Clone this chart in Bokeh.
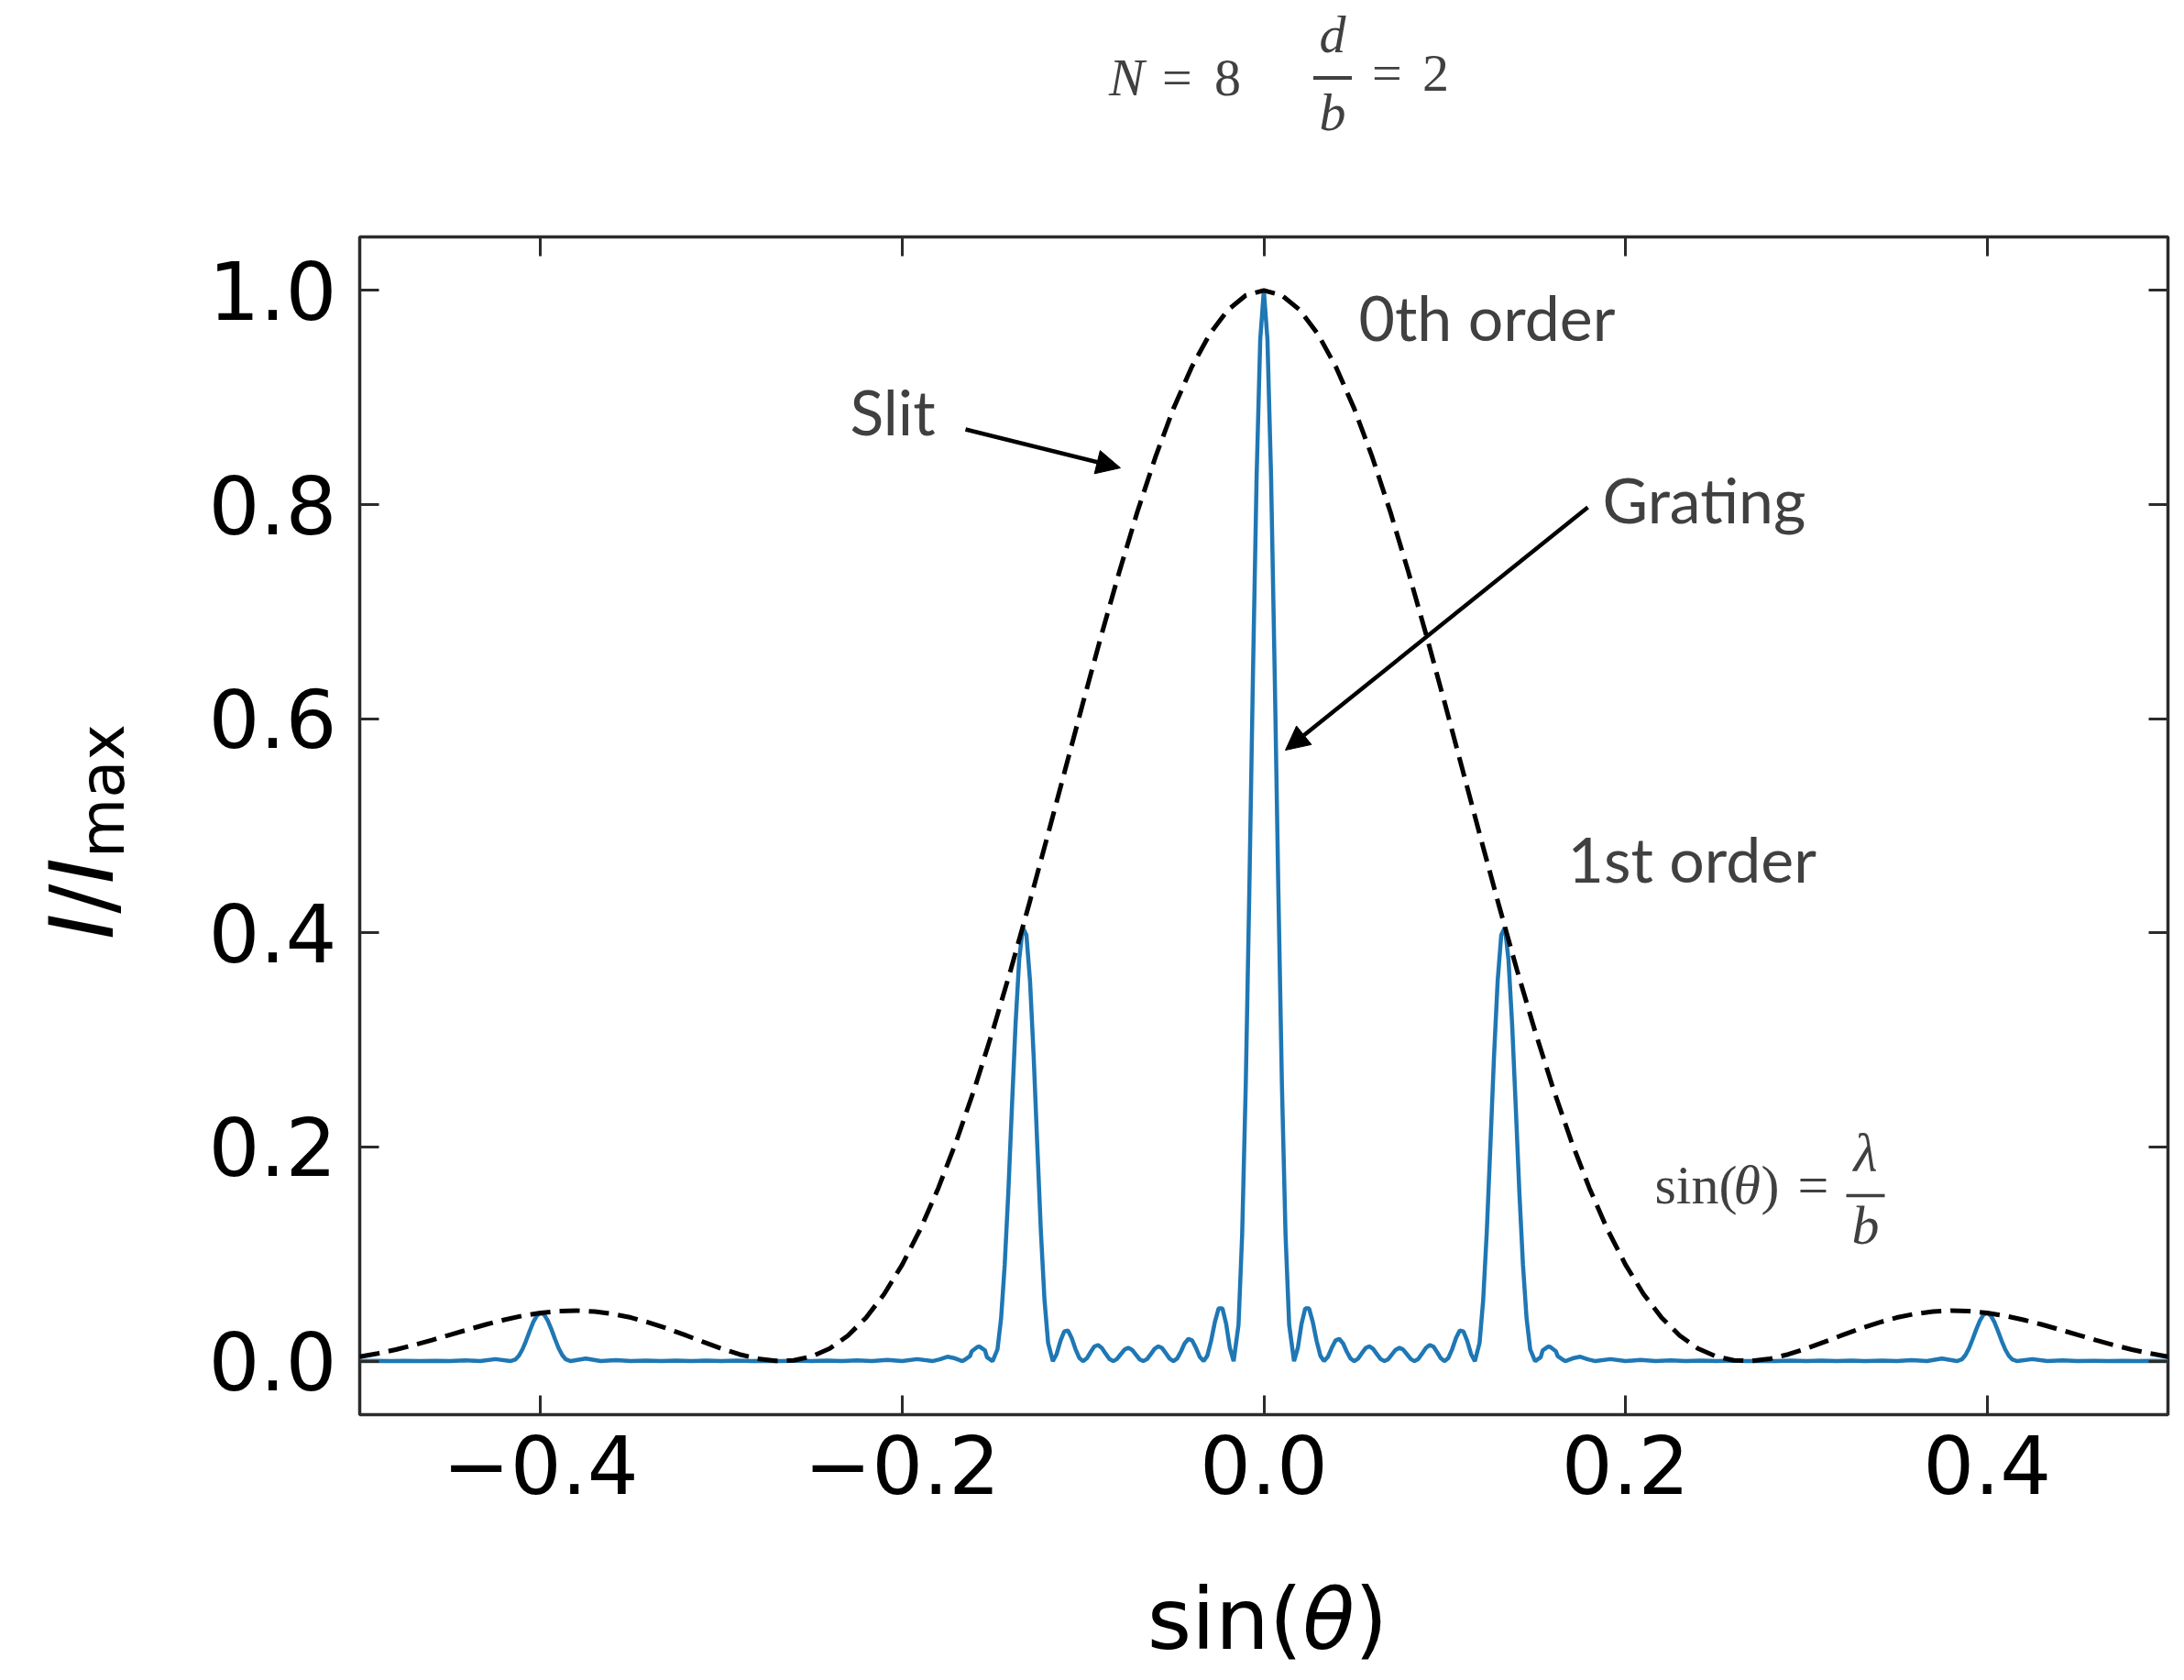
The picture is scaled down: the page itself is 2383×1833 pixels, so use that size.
from bokeh.plotting import figure
from bokeh.models import Range1d, FixedTicker, LinearAxis, Label, Arrow, NormalHead, Div
from bokeh.layouts import column, row
from bokeh.embed import file_html
from bokeh.resources import INLINE

# ---------------- data ----------------
x_ticks = [-0.4, -0.2, 0.0, 0.2, 0.4]
x_tick_labels = ["\u22120.4", "\u22120.2", "0.0", "0.2", "0.4"]
y_ticks = [0.0, 0.2, 0.4, 0.6, 0.8, 1.0]
y_tick_labels = ["0.0", "0.2", "0.4", "0.6", "0.8", "1.0"]

# Grating intensity (blue), left half
grating_x_left = [
    -0.5, -0.4917, -0.4833, -0.475, -0.4667, -0.4583, -0.45, -0.4417, -0.4333, -0.425, -0.4167,
    -0.414, -0.412, -0.41, -0.408, -0.406, -0.404, -0.402, -0.4, -0.398, -0.396, -0.394, -0.392, -0.39, -0.388, -0.386, -0.3833,
    -0.375, -0.3667, -0.3583, -0.35, -0.3417, -0.3333, -0.325, -0.3167, -0.3083, -0.3, -0.2917, -0.2833,
    -0.2767, -0.2667, -0.2567, -0.25,
    -0.2417, -0.2333, -0.225, -0.2167, -0.2083, -0.2, -0.1917, -0.1833,
    -0.1792, -0.175, -0.1708, -0.1667,
    -0.1656, -0.1625, -0.1615, -0.1583, -0.1573, -0.1542, -0.1531, -0.15,
    -0.1473, -0.1453, -0.1433, -0.1413, -0.1393, -0.1373, -0.1353, -0.1333, -0.1313, -0.1293, -0.1273, -0.1253, -0.1233, -0.1213, -0.1193, -0.1167,
    -0.1146, -0.1125, -0.1104, -0.1083, -0.1063, -0.1042, -0.1021, -0.1,
    -0.0979, -0.0958, -0.0938, -0.0917, -0.0896, -0.0875, -0.0854, -0.0833,
    -0.0813, -0.0792, -0.0771, -0.075, -0.0729, -0.0708, -0.0688, -0.0667,
    -0.0646, -0.0625, -0.0604, -0.0583, -0.0563, -0.0542, -0.0521, -0.05,
    -0.0479, -0.0458, -0.0438, -0.0417, -0.0396, -0.0375, -0.0354, -0.0333,
    -0.0313, -0.0292, -0.0271, -0.025, -0.0229, -0.0208, -0.0188, -0.0167,
    -0.014, -0.012, -0.010, -0.008, -0.006, -0.004, -0.002,
]
grating_y_left = [
    0.0, 0.0002, 0.0, 0.0002, 0.0, 0.0003, 0.0, 0.0007, 0.0, 0.0019, 0.0,
    0.0014, 0.0050, 0.0110, 0.0191, 0.0281, 0.0365, 0.0425, 0.0450, 0.0434, 0.0379, 0.0297, 0.0206, 0.0121, 0.0056, 0.0016, 0.0,
    0.0024, 0.0, 0.0010, 0.0, 0.0006, 0.0, 0.0004, 0.0, 0.0004, 0.0, 0.0004, 0.0,
    0.0003, 0.0, 0.0004, 0.0,
    0.0005, 0.0, 0.0007, 0.0, 0.0011, 0.0, 0.0019, 0.0,
    0.0017, 0.0041, 0.0026, 0.0,
    0.0011, 0.0047, 0.0093, 0.0133, 0.0136, 0.0100, 0.0036, 0.0,
    0.011, 0.040, 0.090, 0.158, 0.238, 0.315, 0.375, 0.405, 0.398, 0.355, 0.285, 0.202, 0.121, 0.057, 0.017, 0.0,
    0.0065, 0.0188, 0.0277, 0.0285, 0.0216, 0.0114, 0.0031, 0.0,
    0.0026, 0.0084, 0.0135, 0.0151, 0.0123, 0.0070, 0.0020, 0.0,
    0.0019, 0.0063, 0.0107, 0.0124, 0.0106, 0.0062, 0.0018, 0.0,
    0.0019, 0.0066, 0.0115, 0.0138, 0.0122, 0.0074, 0.0023, 0.0,
    0.0025, 0.0091, 0.0166, 0.0208, 0.0192, 0.0122, 0.0039, 0.0,
    0.0049, 0.0187, 0.0363, 0.0492, 0.0493, 0.0345, 0.0123, 0.0,
    0.034, 0.118, 0.258, 0.442, 0.643, 0.826, 0.954,
]
# Grating intensity (blue), right half
grating_x_right = [
    0.0, 0.002, 0.004, 0.006, 0.008, 0.010, 0.012, 0.014,
    0.0167, 0.0188, 0.0208, 0.0229, 0.025, 0.0271, 0.0292, 0.0313,
    0.0333, 0.0354, 0.0375, 0.0396, 0.0417, 0.0438, 0.0458, 0.0479,
    0.05, 0.0521, 0.0542, 0.0563, 0.0583, 0.0604, 0.0625, 0.0646,
    0.0667, 0.0688, 0.0708, 0.0729, 0.075, 0.0771, 0.0792, 0.0813,
    0.0833, 0.0854, 0.0875, 0.0896, 0.0917, 0.0938, 0.0958, 0.0979,
    0.1, 0.1021, 0.1042, 0.1063, 0.1083, 0.1104, 0.1125, 0.1146,
    0.1167, 0.1193, 0.1213, 0.1233, 0.1253, 0.1273, 0.1293, 0.1313, 0.1333, 0.1353, 0.1373, 0.1393, 0.1413, 0.1433, 0.1453, 0.1473,
    0.15, 0.1531, 0.1542, 0.1573, 0.1583, 0.1615, 0.1625, 0.1656,
    0.1667, 0.1708, 0.175, 0.1792,
    0.1833, 0.1917, 0.2, 0.2083, 0.2167, 0.225, 0.2333, 0.2417,
    0.25, 0.2567, 0.2667, 0.2767,
    0.2833, 0.2917, 0.3, 0.3083, 0.3167, 0.325, 0.3333, 0.3417, 0.35, 0.3583, 0.3667, 0.375,
    0.3833, 0.386, 0.388, 0.39, 0.392, 0.394, 0.396, 0.398, 0.4, 0.402, 0.404, 0.406, 0.408, 0.41, 0.412, 0.414,
    0.4167, 0.425, 0.4333, 0.4417, 0.45, 0.4583, 0.4667, 0.475, 0.4833, 0.4917, 0.5,
]
grating_y_right = [
    1.0, 0.954, 0.826, 0.643, 0.442, 0.258, 0.118, 0.034,
    0.0, 0.0123, 0.0345, 0.0493, 0.0492, 0.0363, 0.0187, 0.0049,
    0.0, 0.0039, 0.0122, 0.0192, 0.0208, 0.0166, 0.0091, 0.0025,
    0.0, 0.0023, 0.0074, 0.0122, 0.0138, 0.0115, 0.0066, 0.0019,
    0.0, 0.0018, 0.0062, 0.0106, 0.0124, 0.0107, 0.0063, 0.0019,
    0.0, 0.0020, 0.0070, 0.0123, 0.0151, 0.0135, 0.0084, 0.0026,
    0.0, 0.0031, 0.0114, 0.0216, 0.0285, 0.0277, 0.0188, 0.0065,
    0.0, 0.017, 0.057, 0.121, 0.202, 0.285, 0.355, 0.398, 0.405, 0.375, 0.315, 0.238, 0.158, 0.090, 0.040, 0.011,
    0.0, 0.0036, 0.0100, 0.0136, 0.0133, 0.0093, 0.0047, 0.0011,
    0.0, 0.0026, 0.0041, 0.0017,
    0.0, 0.0019, 0.0, 0.0011, 0.0, 0.0007, 0.0, 0.0005,
    0.0, 0.0004, 0.0, 0.0003,
    0.0, 0.0004, 0.0, 0.0004, 0.0, 0.0004, 0.0, 0.0006, 0.0, 0.0010, 0.0, 0.0024,
    0.0, 0.0016, 0.0056, 0.0121, 0.0206, 0.0297, 0.0379, 0.0434, 0.0450, 0.0425, 0.0365, 0.0281, 0.0191, 0.0110, 0.0050, 0.0014,
    0.0, 0.0019, 0.0, 0.0007, 0.0, 0.0003, 0.0, 0.0002, 0.0, 0.0002, 0.0,
]

# Single-slit envelope (dashed)
slit_x = [
    -0.50, -0.49, -0.48, -0.47, -0.46, -0.45, -0.44, -0.43, -0.42, -0.41,
    -0.40, -0.39, -0.38, -0.37, -0.36, -0.35, -0.34, -0.33, -0.32, -0.31,
    -0.30, -0.29, -0.28, -0.27, -0.26, -0.25, -0.24, -0.23, -0.22, -0.21,
    -0.20, -0.19, -0.18, -0.17, -0.16, -0.15, -0.14, -0.13, -0.12, -0.11,
    -0.10, -0.09, -0.08, -0.07, -0.06, -0.05, -0.04, -0.03, -0.02, -0.01,
    0.00,
    0.01, 0.02, 0.03, 0.04, 0.05, 0.06, 0.07, 0.08, 0.09, 0.10,
    0.11, 0.12, 0.13, 0.14, 0.15, 0.16, 0.17, 0.18, 0.19, 0.20,
    0.21, 0.22, 0.23, 0.24, 0.25, 0.26, 0.27, 0.28, 0.29, 0.30,
    0.31, 0.32, 0.33, 0.34, 0.35, 0.36, 0.37, 0.38, 0.39, 0.40,
    0.41, 0.42, 0.43, 0.44, 0.45, 0.46, 0.47, 0.48, 0.49, 0.50,
]
slit_y = [
    0.0042, 0.0072, 0.0108, 0.0150, 0.0197, 0.0246, 0.0295, 0.0343, 0.0386, 0.0423,
    0.0450, 0.0467, 0.0472, 0.0463, 0.0441, 0.0407, 0.0360, 0.0305, 0.0243, 0.0179,
    0.0117, 0.0063, 0.0022, 0.0002, 0.0007, 0.0044, 0.0119, 0.0239, 0.0406, 0.0626,
    0.0901, 0.1231, 0.1617, 0.2056, 0.2546, 0.3080, 0.3653, 0.4257, 0.4881, 0.5516,
    0.6150, 0.6771, 0.7368, 0.7929, 0.8442, 0.8896, 0.9281, 0.9590, 0.9816, 0.9954,
    1.0000,
    0.9954, 0.9816, 0.9590, 0.9281, 0.8896, 0.8442, 0.7929, 0.7368, 0.6771, 0.6150,
    0.5516, 0.4881, 0.4257, 0.3653, 0.3080, 0.2546, 0.2056, 0.1617, 0.1231, 0.0901,
    0.0626, 0.0406, 0.0239, 0.0119, 0.0044, 0.0007, 0.0002, 0.0022, 0.0063, 0.0117,
    0.0179, 0.0243, 0.0305, 0.0360, 0.0407, 0.0441, 0.0463, 0.0472, 0.0467, 0.0450,
    0.0423, 0.0386, 0.0343, 0.0295, 0.0246, 0.0197, 0.0150, 0.0108, 0.0072, 0.0042,
]

# ---------------- layout (page pixels) ----------------
X0, X1 = -0.5, 0.5
Y0, Y1 = -0.05, 1.05
FL, FR, FT, FB = 392, 2365, 258, 1543   # frame edges
FW, FH = FR - FL, FB - FT
YL_W = 150          # width of the y-label strip on the left
TITLE_H = 160       # height of the title strip on top
FIG_BOTTOM = 150    # figure border below the frame (tick labels)
XL_H = 136          # height of the x-label strip at the bottom
RIGHT_W = FR + 10 - YL_W
TOTAL_H = FB + FIG_BOTTOM + XL_H


def dx(px):
    return X0 + (px - FL) * (X1 - X0) / FW


def dy(py):
    return Y0 + (FB - py) * (Y1 - Y0) / FH


p = figure(
    frame_width=FW, frame_height=FH,
    x_range=Range1d(X0, X1), y_range=Range1d(Y0, Y1),
    output_backend="svg", toolbar_location=None,
    min_border_left=FL - YL_W, min_border_right=10,
    min_border_top=FT - TITLE_H, min_border_bottom=FIG_BOTTOM,
    background_fill_color="white", border_fill_color="white",
    margin=(0, 0, 0, 0),
)
p.grid.visible = False
p.outline_line_color = "#2b2b2b"
p.outline_line_width = 3.5

AX = "#2b2b2b"
TICK_FONT = "DejaVu Sans"


def style_axis(ax, ticks, labels, show):
    ax.ticker = FixedTicker(ticks=ticks)
    ax.major_label_overrides = {t: (l if show else "") for t, l in zip(ticks, labels)}
    ax.axis_line_color = None
    ax.major_tick_in = 21
    ax.major_tick_out = 0
    ax.major_tick_line_width = 3
    ax.major_tick_line_color = AX
    ax.minor_tick_line_color = None
    ax.major_label_text_font = TICK_FONT
    ax.major_label_text_color = "black"
    ax.major_label_text_font_size = "88px" if show else "1px"


style_axis(p.xaxis[0], x_ticks, x_tick_labels, True)
p.xaxis[0].major_label_standoff = 22
style_axis(p.yaxis[0], y_ticks, y_tick_labels, True)
p.yaxis[0].major_label_standoff = 25

top_axis = LinearAxis()
style_axis(top_axis, x_ticks, x_tick_labels, False)
top_axis.major_label_standoff = 0
p.add_layout(top_axis, "above")
right_axis = LinearAxis()
style_axis(right_axis, y_ticks, y_tick_labels, False)
right_axis.major_label_standoff = 0
p.add_layout(right_axis, "right")

# ---------------- curves ----------------
p.line(grating_x_left + grating_x_right, grating_y_left + grating_y_right,
       line_color="#1f77b4", line_width=4.5)
p.line(slit_x, slit_y, line_color="black", line_width=5, line_dash="22 10")

# ---------------- in-plot texts ----------------
BASE_SHIFT = 0.42  # Bokeh label baseline correction (in em)


def lab(px, py, text, font, size, color="#404040", style="normal", align="left"):
    p.add_layout(Label(x=dx(px), y=dy(py - BASE_SHIFT * size), text=text, text_font=font,
                       text_font_size=f"{size}px", text_color=color,
                       text_font_style=style, text_align=align,
                       text_baseline="alphabetic"))


SERIF = "Liberation Serif"
ANN = "Lato"
lab(1482, 374, "0th order", ANN, 68)
lab(927, 477, "Slit", ANN, 68)
lab(1748, 573, "Grating", ANN, 68)
lab(1710, 965, "1st order", ANN, 68)

# sin(theta) = lambda / b
lab(1805, 1318, "sin(", SERIF, 60)
lab(1891, 1318, "\u03b8", SERIF, 60, style="italic")
lab(1921, 1318, ")", SERIF, 60)
lab(1961, 1318, "=", SERIF, 60)
p.add_layout(Arrow(end=None, x_start=dx(2014), y_start=dy(1304), x_end=dx(2056), y_end=dy(1304),
                   line_color="#404040", line_width=3.5))
lab(2035, 1283, "\u03bb", SERIF, 60, style="italic", align="center")
lab(2035, 1362, "b", SERIF, 60, style="italic", align="center")

# Arrows
for (x0, y0, x1, y1) in [(1053, 468, 1222, 510), (1732, 553, 1402, 818)]:
    p.add_layout(Arrow(end=NormalHead(size=26, fill_color="black", line_color="black", line_width=1),
                       x_start=dx(x0), y_start=dy(y0), x_end=dx(x1), y_end=dy(y1),
                       line_color="black", line_width=4.5))


# ---------------- HTML text strips (title, axis labels) ----------------
def span(ox, oy, left, baseline, text, size, asc, italic=False, center=False, extra=""):
    """Absolutely positioned text; left/baseline in page pixels, (ox, oy) = strip origin."""
    tr = "transform:translateX(-50%);" if center else ""
    st = "font-style:italic;" if italic else ""
    return (f'<span style="position:absolute;left:{left - ox}px;top:{baseline - asc * size - oy:.1f}px;'
            f'font-size:{size}px;line-height:1;white-space:nowrap;{st}{tr}{extra}">{text}</span>')


SERIF_ASC = 0.8375   # baseline offset (em) in a line-height:1 box, Liberation Serif
SANS_ASC = 0.846     # same for DejaVu Sans
TS = 58

# Title strip at page (YL_W, 0)
ox, oy = YL_W, 0
title_html = (
    f'<div style="position:relative;width:{RIGHT_W}px;height:{TITLE_H}px;'
    f'font-family:\'Liberation Serif\';color:#404040;">'
    + span(ox, oy, 1210, 105, "N", TS, SERIF_ASC, italic=True)
    + span(ox, oy, 1268, 105, "=", TS, SERIF_ASC)
    + span(ox, oy, 1325, 105, "8", TS, SERIF_ASC)
    + span(ox, oy, 1454, 58, "d", TS, SERIF_ASC, italic=True, center=True)
    + f'<div style="position:absolute;left:{1433 - ox}px;top:{83 - oy}px;width:42px;height:4px;background:#404040;"></div>'
    + span(ox, oy, 1454, 143, "b", TS, SERIF_ASC, italic=True, center=True)
    + span(ox, oy, 1497, 100, "=", TS, SERIF_ASC)
    + span(ox, oy, 1552, 100, "2", TS, SERIF_ASC)
    + '</div>'
)
title_div = Div(text=title_html, width=RIGHT_W, height=TITLE_H, margin=(0, 0, 0, 0))

# x-label strip at page (YL_W, FB + FIG_BOTTOM)
ox, oy = YL_W, FB + FIG_BOTTOM
xlab_html = (
    f'<div style="position:relative;width:{RIGHT_W}px;height:{XL_H}px;'
    f'font-family:\'DejaVu Sans\';color:black;">'
    + span(ox, oy, 1383, 1800, 'sin(<span style="font-style:italic">\u03b8</span>)', 93, SANS_ASC, center=True)
    + '</div>'
)
xlab_div = Div(text=xlab_html, width=RIGHT_W, height=XL_H, margin=(0, 0, 0, 0))

# y-label strip at page (0, 0): rotated text, baseline at x=123, starting at y=1025
YS = 96
ylab_html = (
    f'<div style="position:relative;width:{YL_W}px;height:{TOTAL_H}px;'
    f'font-family:\'DejaVu Sans\';color:black;">'
    f'<div style="position:absolute;left:{123 - SANS_ASC * YS:.1f}px;top:1025px;'
    f'transform-origin:0 0;transform:rotate(-90deg);font-size:{YS}px;line-height:1;white-space:nowrap;">'
    '<span style="font-style:italic">I</span>/<span style="font-style:italic">I</span>'
    '<span style="font-size:67px;position:relative;top:12px;">max</span>'
    '</div></div>'
)
ylab_div = Div(text=ylab_html, width=YL_W, height=TOTAL_H, margin=(0, 0, 0, 0))

layout = row(ylab_div, column(title_div, p, xlab_div, spacing=0, margin=(0, 0, 0, 0)),
             spacing=0, margin=(0, 0, 0, 0))
open("out.html", "w").write(file_html(layout, INLINE))
